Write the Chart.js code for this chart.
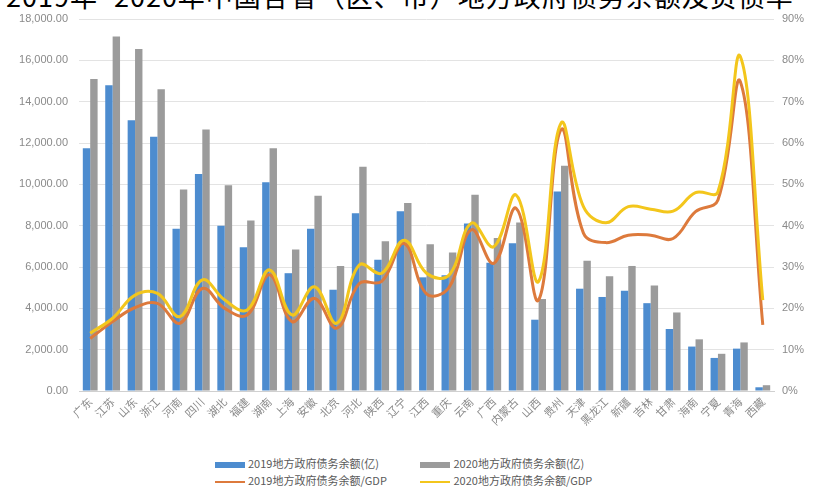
<!DOCTYPE html>
<html>
<head>
<meta charset="utf-8">
<script src="https://cdn.jsdelivr.net/npm/chart.js@4"></script>
<style>
  body { margin: 0; background: #fff; width: 816px; height: 495px; overflow: hidden; position: relative; font-family: "Noto Sans CJK SC", "Liberation Sans", sans-serif; }
  .title { position: absolute; left: 6px; top: -19px; font-size: 27px; line-height: 30px; color: #000; white-space: nowrap; letter-spacing: 1px; }
  .wrap { position: absolute; left: 0; top: 0; width: 816px; height: 445px; }
  .legend { position: absolute; left: 215px; top: 455px; font-size: 11px; color: #5a5a5a; }
  .legend .row { height: 17px; line-height: 17px; white-space: nowrap; }
  .legend .item { display: inline-block; width: 203px; }
  .legend .sw { display: inline-block; width: 30px; vertical-align: middle; margin-right: 3px; }
</style>
</head>
<body>
<div class="title">2019年~2020年中国各省（区、市）地方政府债务余额及负债率</div>
<div class="wrap"><canvas id="myCanvas"></canvas></div>
<div class="legend">
  <div class="row">
    <span class="item"><span class="sw" style="height:6px;background:#4d8ccf"></span>2019地方政府债务余额(亿)</span>
    <span class="item"><span class="sw" style="height:6px;background:#9b9b9b"></span>2020地方政府债务余额(亿)</span>
  </div>
  <div class="row">
    <span class="item"><span class="sw" style="height:2px;background:#dd7a3c"></span>2019地方政府债务余额/GDP</span>
    <span class="item"><span class="sw" style="height:2px;background:#f3c61c"></span>2020地方政府债务余额/GDP</span>
  </div>
</div>
<script>
var provinces = ["广东", "江苏", "山东", "浙江", "河南", "四川", "湖北", "福建", "湖南", "上海", "安徽",
  "北京", "河北", "陕西", "辽宁", "江西", "重庆", "云南", "广西", "内蒙古", "山西", "贵州", "天津",
  "黑龙江", "新疆", "吉林", "甘肃", "海南", "宁夏", "青海", "西藏"];

// 地方政府债务余额（亿元）
var debt2019 = [11750, 14800, 13100, 12300, 7850, 10500, 8000, 6950, 10100, 5700, 7850,
  4900, 8600, 6350, 8700, 5500, 5600, 8100, 6200, 7150, 3450, 9650, 4950,
  4550, 4850, 4250, 3000, 2150, 1600, 2050, 180];
var debt2020 = [15100, 17150, 16550, 14600, 9750, 12650, 9950, 8250, 11750, 6850, 9450,
  6050, 10850, 7250, 9100, 7100, 6700, 9500, 7400, 8150, 4450, 10900, 6300,
  5550, 6050, 5100, 3800, 2500, 1800, 2350, 280];

// 债务余额/GDP（%）
var ratio2019 = [12.7, 16.8, 20.2, 21.2, 16.4, 24.8, 20.0, 18.4, 28.1, 16.8, 22.4,
  15.2, 26.0, 26.5, 35.7, 23.5, 25.0, 39.0, 30.9, 44.2, 22.0, 63.2, 38.2,
  35.9, 37.7, 37.7, 36.9, 43.4, 46.2, 74.8, 16.0];
var ratio2020 = [14.0, 17.6, 23.2, 23.6, 18.0, 26.9, 22.0, 19.6, 29.3, 18.4, 25.2,
  16.4, 30.5, 28.5, 36.5, 28.5, 28.0, 40.6, 34.9, 47.4, 26.5, 64.8, 44.6,
  40.7, 44.6, 44.0, 43.5, 48.0, 48.2, 80.9, 22.0];

var leftMax = 18000, leftStep = 2000;
var rightMax = 90, rightStep = 10;

var tickFont = { family: "Liberation Sans", size: 11 };
var tickColor = "#8a8a8a";

var ctx = document.getElementById("myCanvas");
var chart = new Chart(ctx, {
  data: {
    labels: provinces,
    datasets: [
      { type: "line", label: "2020地方政府债务余额/GDP", data: ratio2020, yAxisID: "yR",
        borderColor: "#f3c61c", borderWidth: 3, pointRadius: 0, tension: 0.4, order: 1 },
      { type: "line", label: "2019地方政府债务余额/GDP", data: ratio2019, yAxisID: "yR",
        borderColor: "#dd7a3c", borderWidth: 3, pointRadius: 0, tension: 0.4, order: 2 },
      { type: "bar", label: "2019地方政府债务余额(亿)", data: debt2019, yAxisID: "yL",
        backgroundColor: "#4d8ccf", categoryPercentage: 0.66, barPercentage: 1.0, order: 3 },
      { type: "bar", label: "2020地方政府债务余额(亿)", data: debt2020, yAxisID: "yL",
        backgroundColor: "#9b9b9b", categoryPercentage: 0.66, barPercentage: 1.0, order: 4 }
    ]
  },
  options: {
    responsive: false,
    animation: false,
    maintainAspectRatio: false,
    layout: { padding: { top: 19, left: 0, right: 0, bottom: 0 } },
    plugins: { legend: { display: false }, tooltip: { enabled: false } },
    scales: {
      x: {
        grid: { display: false, drawTicks: false },
        border: { display: true, color: "#d0d0d0" },
        ticks: { font: { family: "Noto Sans CJK SC", size: 11 }, color: tickColor,
          autoSkip: false, minRotation: 45, maxRotation: 45, padding: 4 },
        afterFit: function (s) { s.height = 54; }
      },
      yL: {
        position: "left", min: 0, max: leftMax,
        grid: { color: "#e3e3e3", drawTicks: false },
        border: { display: false },
        ticks: { stepSize: leftStep, font: tickFont, color: tickColor, padding: 11,
          callback: function (v) { return v.toLocaleString("en-US", { minimumFractionDigits: 2, maximumFractionDigits: 2 }); } },
        afterFit: function (s) { s.width = 79; }
      },
      yR: {
        position: "right", min: 0, max: rightMax,
        grid: { display: false, drawTicks: false },
        border: { display: false },
        ticks: { stepSize: rightStep, font: tickFont, color: tickColor, padding: 8,
          callback: function (v) { return v + "%"; } },
        afterFit: function (s) { s.width = 42; }
      }
    }
  }
});
ctx.style.width = "816px";
ctx.style.height = "445px";
chart.resize(816, 445);
</script>
</body>
</html>
